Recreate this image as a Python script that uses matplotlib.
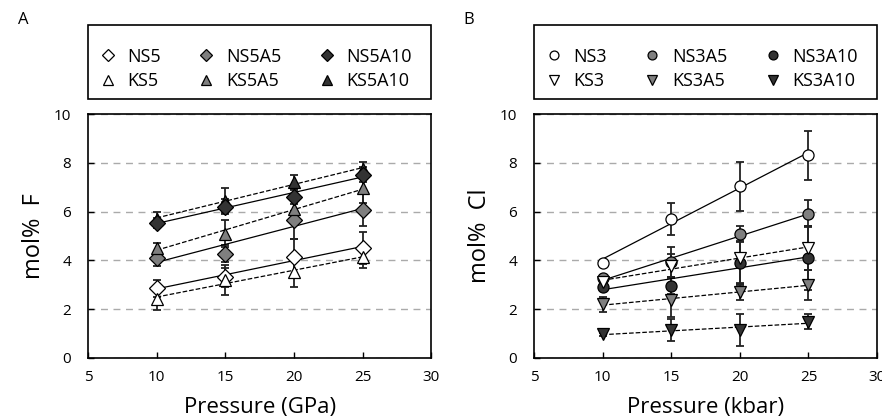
import matplotlib
matplotlib.use("Agg")
import matplotlib.pyplot as plt
from matplotlib.patches import Rectangle
import numpy as np

plt.rcParams['font.family'] = ['Open Sans', 'DejaVu Sans']

# data
pressure = np.array([10, 15, 20, 25])

# panel A: mol% F
ns5 = [2.86, 3.30, 4.14, 4.51]
ns5_err = [0.35, 0.40, 0.75, 0.65]
ks5 = [2.42, 3.20, 3.53, 4.14]
ks5_err = [0.45, 0.60, 0.60, 0.45]
ns5a5 = [4.08, 4.28, 5.67, 6.07]
ns5a5_err = [0.30, 0.35, 0.80, 0.65]
ks5a5 = [4.51, 5.10, 6.11, 6.95]
ks5a5_err = [0.20, 0.55, 0.60, 0.60]
ns5a10 = [5.53, 6.21, 6.62, 7.51]
ns5a10_err = [0.20, 0.30, 0.30, 0.30]
ks5a10 = [5.70, 6.45, 7.20, 7.74]
ks5a10_err = [0.30, 0.50, 0.30, 0.30]

# panel B: mol% Cl
ns3 = [3.90, 5.71, 7.04, 8.31]
ns3_err = [0.10, 0.65, 1.00, 1.00]
ks3 = [3.10, 3.78, 4.08, 4.52]
ks3_err = [0.10, 0.50, 1.00, 0.90]
ns3a5 = [3.26, 3.94, 5.07, 5.91]
ns3a5_err = [0.15, 0.60, 0.33, 0.55]
ks3a5 = [2.20, 2.38, 2.72, 2.99]
ks3a5_err = [0.30, 0.70, 0.33, 0.62]
ns3a10 = [2.92, 2.96, 3.91, 4.10]
ns3a10_err = [0.15, 0.35, 0.90, 1.30]
ks3a10 = [0.97, 1.15, 1.15, 1.49]
ks3a10_err = [0.05, 0.45, 0.65, 0.30]

white, gray, dark = 'white', '#7f7f7f', '#333333'


def plot_series(ax, y, err, marker, face, ls, label, ms=8):
    y = np.asarray(y)
    ax.errorbar(pressure, y, yerr=err, fmt='none', ecolor='#222222',
                elinewidth=1.3, capsize=3, capthick=1.3, zorder=3)
    k, b = np.polyfit(pressure, y, 1)
    ax.plot(pressure, k * pressure + b, color='black', lw=0.9, ls=ls, zorder=4)
    ax.plot(pressure, y, ls='none', marker=marker, ms=ms, mfc=face,
            mec='black', mew=0.9, zorder=5, label=label)


fig = plt.figure(figsize=(8.82, 4.17), dpi=100)
axA = fig.add_axes([0.0998, 0.1415, 0.389, 0.585])
axB = fig.add_axes([0.6054, 0.1415, 0.389, 0.585])

# panel A
plot_series(axA, ns5, ns5_err, 'D', white, '-', 'NS5')
plot_series(axA, ks5, ks5_err, '^', white, '--', 'KS5', 9)
plot_series(axA, ns5a5, ns5a5_err, 'D', gray, '-', 'NS5A5')
plot_series(axA, ks5a5, ks5a5_err, '^', gray, '--', 'KS5A5', 9)
plot_series(axA, ks5a10, ks5a10_err, '^', dark, '--', 'KS5A10', 9)
plot_series(axA, ns5a10, ns5a10_err, 'D', dark, '-', 'NS5A10')

# panel B
plot_series(axB, ns3, ns3_err, 'o', white, '-', 'NS3', 8)
plot_series(axB, ns3a10, ns3a10_err, 'o', dark, '-', 'NS3A10', 8)
plot_series(axB, ns3a5, ns3a5_err, 'o', gray, '-', 'NS3A5', 8)
plot_series(axB, ks3, ks3_err, 'v', white, '--', 'KS3', 9)
plot_series(axB, ks3a5, ks3a5_err, 'v', gray, '--', 'KS3A5', 9)
plot_series(axB, ks3a10, ks3a10_err, 'v', dark, '--', 'KS3A10', 9)

orders = [['NS5', 'KS5', 'NS5A5', 'KS5A5', 'NS5A10', 'KS5A10'],
          ['NS3', 'KS3', 'NS3A5', 'KS3A5', 'NS3A10', 'KS3A10']]

for ax, ylab, xlab, letter, order in zip(
        [axA, axB], ['mol%  F', 'mol%  Cl'], ['Pressure (GPa)', 'Pressure (kbar)'],
        ['A', 'B'], orders):
    ax.set_xlim(5, 30)
    ax.set_ylim(0, 10)
    ax.set_xticks([5, 10, 15, 20, 25, 30])
    ax.set_yticks([0, 2, 4, 6, 8, 10])
    ax.tick_params(direction='in', length=4, width=1, labelsize=11, pad=9)
    ax.tick_params(axis='y', pad=12)
    ax.yaxis.grid(True, ls=(0, (5, 4)), color='#aaaaaa', lw=1)
    ax.set_axisbelow(True)
    for s in ax.spines.values():
        s.set_linewidth(1.2)
    ax.set_ylabel(ylab, fontsize=17, labelpad=6)
    ax.set_xlabel(xlab, fontsize=16, labelpad=8)
    ax.text(-0.205, 1.385, letter, transform=ax.transAxes, fontsize=12,
            ha='left', va='center')

    # legend box spanning the axes width
    ax.add_patch(Rectangle((0, 1.061), 1, 0.304, transform=ax.transAxes,
                           fill=False, ec='black', lw=1.2, clip_on=False))
    handles, labels = ax.get_legend_handles_labels()
    lookup = dict(zip(labels, handles))
    ax.legend([lookup[l] for l in order], order, ncol=3,
              loc='center left', bbox_to_anchor=(0.01, 1.185),
              fontsize=13, frameon=False, markerscale=0.8, handlelength=1.0,
              handletextpad=0.6, labelspacing=0.35, columnspacing=2.0,
              borderaxespad=0)

fig.savefig('out.png', dpi=100)
